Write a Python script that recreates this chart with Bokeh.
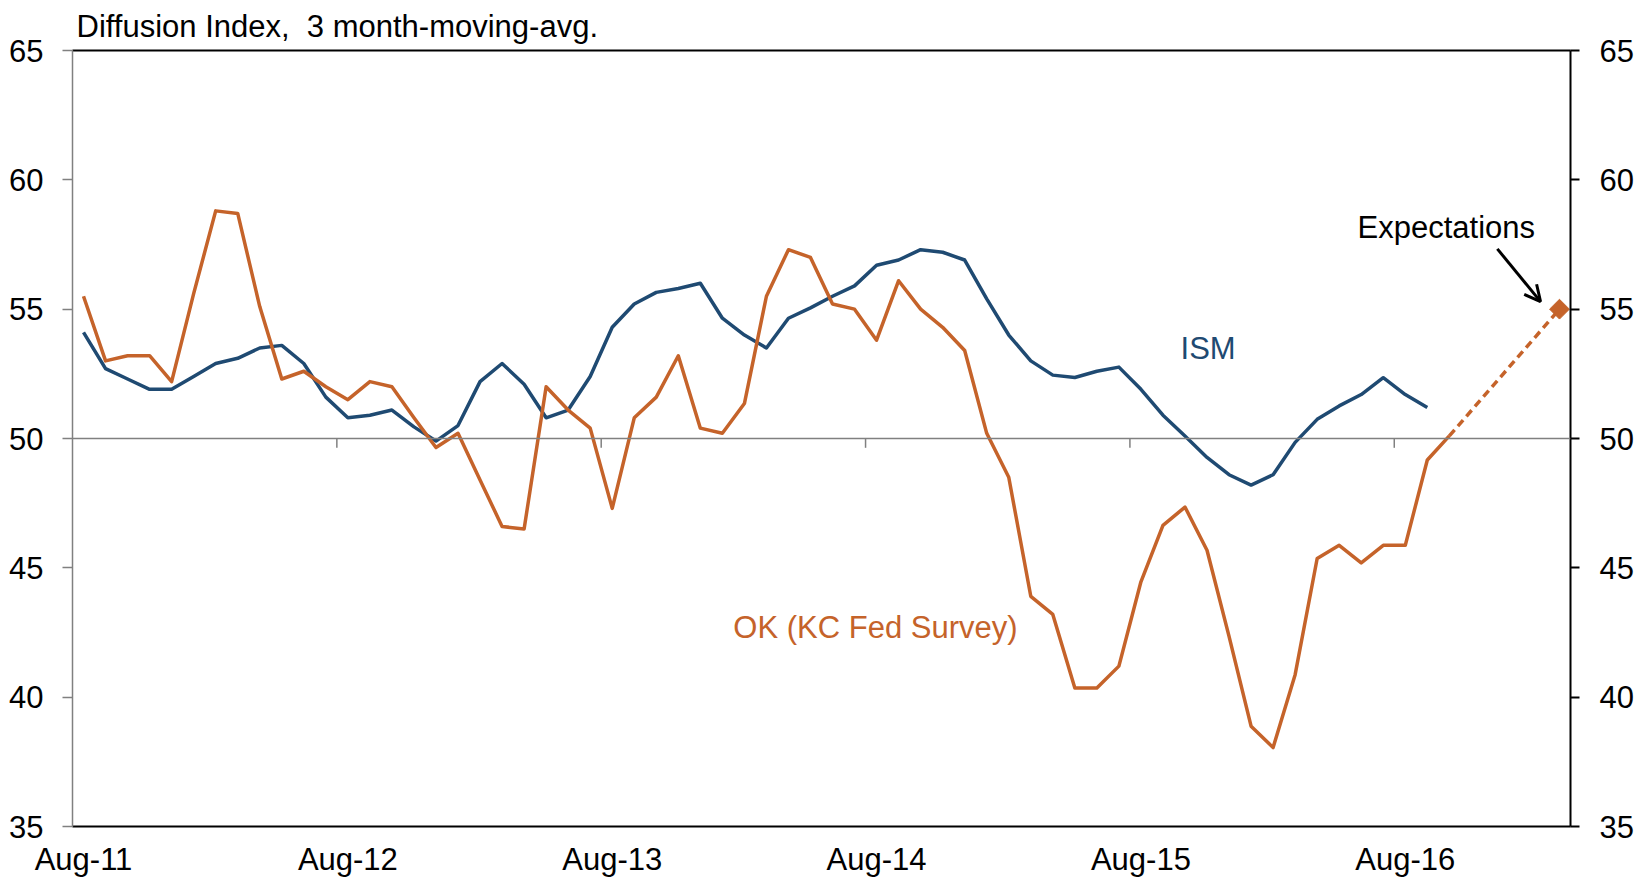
import math
import pandas as pd
from bokeh.plotting import figure
from bokeh.models import (Range1d, LinearAxis, FixedTicker, Span, Label,
                          Arrow, OpenHead)
from bokeh.embed import file_html
from bokeh.resources import INLINE

# ---------------- data ----------------
months = [p.strftime("%b-%y") for p in pd.period_range("2011-08", "2017-03", freq="M")]

ism_values = [54.1, 52.7, 52.3, 51.9, 51.9, 52.4, 52.9, 53.1, 53.5, 53.6,
              52.9, 51.6, 50.8, 50.9, 51.1, 50.45, 49.9, 50.5, 52.2, 52.9,
              52.1, 50.8, 51.1, 52.4, 54.3, 55.2, 55.65, 55.8, 56.0, 54.65,
              54.0, 53.5, 54.65, 55.05, 55.5, 55.9, 56.7, 56.9, 57.3, 57.2,
              56.9, 55.4, 54.0, 53.0, 52.45, 52.36, 52.6, 52.76, 51.9, 50.9,
              50.1, 49.27, 48.6, 48.2, 48.6, 49.85, 50.74, 51.26, 51.7, 52.35,
              51.7, 51.2]

ok_values = [55.5, 53.0, 53.2, 53.2, 52.2, 55.6, 58.8, 58.7, 55.1, 52.3,
             52.6, 52.0, 51.5, 52.2, 52.0, 50.8, 49.65, 50.2, 48.4, 46.6,
             46.5, 52.0, 51.1, 50.4, 47.3, 50.8, 51.6, 53.2, 50.4, 50.2,
             51.35, 55.5, 57.3, 57.0, 55.2, 55.0, 53.8, 56.1, 55.0, 54.3,
             53.4, 50.2, 48.5, 43.9, 43.2, 40.35, 40.35, 41.2, 44.46, 46.64,
             47.35, 45.68, 42.35, 38.88, 38.05, 40.87, 45.36, 45.87, 45.19, 45.87,
             45.87, 49.17, 50.1]

expectation_month = "Mar-17"
expectation_value = 55.0

year_tick_labels = ["Aug-11", "Aug-12", "Aug-13", "Aug-14", "Aug-15", "Aug-16"]
y_ticks = [35, 40, 45, 50, 55, 60, 65]

# ---------------- styling ----------------
BLUE = "#1F4A72"
ORANGE = "#C5632A"
GREY = "#808080"
FONT = "Liberation Sans"
FS = "31px"

pos = {m: i for i, m in enumerate(months)}
x_ism = [pos[m] for m in months[:len(ism_values)]]
x_ok = [pos[m] for m in months[:len(ok_values)]]
x_exp = pos[expectation_month]

p = figure(width=1641, height=880,
           x_range=Range1d(-0.5, len(months) - 0.5),
           y_range=Range1d(y_ticks[0], y_ticks[-1]),
           x_axis_location=None, y_axis_location=None,
           output_backend="svg", toolbar_location=None,
           min_border_left=72, min_border_right=71, min_border_top=50, min_border_bottom=54)
p.outline_line_color = None
p.xgrid.visible = False
p.ygrid.visible = False

# title
p.title.text = "Diffusion Index,\u00a0 3 month-moving-avg."
p.title.align = "left"
p.title.offset = 4
p.title.standoff = 13
p.title.text_font = FONT
p.title.text_font_size = FS
p.title.text_font_style = "normal"
p.title.text_color = "black"

# left axis (grey)
left = LinearAxis(ticker=FixedTicker(ticks=y_ticks),
                  axis_line_color=GREY, axis_line_width=1.5,
                  major_tick_line_color=GREY, major_tick_line_width=1.5,
                  major_tick_out=10, major_tick_in=0, minor_tick_line_color=None,
                  major_label_text_font=FONT, major_label_text_font_size=FS,
                  major_label_text_color="black", major_label_standoff=19)
p.add_layout(left, "left")

# right axis (black)
right = LinearAxis(ticker=FixedTicker(ticks=y_ticks),
                   axis_line_color="black", axis_line_width=2,
                   major_tick_line_color="black", major_tick_line_width=2,
                   major_tick_out=9, major_tick_in=0, minor_tick_line_color=None,
                   major_label_text_font=FONT, major_label_text_font_size=FS,
                   major_label_text_color="black", major_label_standoff=20)
p.add_layout(right, "right")

# top border
top = LinearAxis(ticker=FixedTicker(ticks=[]), axis_line_color="black", axis_line_width=2,
                 major_tick_line_color=None, minor_tick_line_color=None,
                 major_tick_out=0, major_label_standoff=0, major_label_text_font_size="0px")
p.add_layout(top, "above")

# bottom border with yearly labels
year_pos = [pos[m] for m in year_tick_labels]
bottom = LinearAxis(ticker=FixedTicker(ticks=year_pos),
                    major_label_overrides={pos[m]: m for m in year_tick_labels},
                    axis_line_color="black", axis_line_width=2,
                    major_tick_line_color=None, minor_tick_line_color=None,
                    major_tick_out=0, major_tick_in=0, major_label_standoff=15,
                    major_label_text_font=FONT, major_label_text_font_size=FS,
                    major_label_text_color="black")
p.add_layout(bottom, "below")

# 50 line with yearly tick marks
p.add_layout(Span(location=50, dimension="width", line_color=GREY, line_width=1.5))
bounds = [x - 0.5 for x in year_pos if x > 0]
p.segment(x0=bounds, x1=bounds, y0=[50] * len(bounds), y1=[50 - 0.36] * len(bounds),
          line_color=GREY, line_width=1.5)

# series
p.line(x_ism, ism_values, line_color=BLUE, line_width=3.5, line_join="round")
p.line(x_ok, ok_values, line_color=ORANGE, line_width=3.5, line_join="round")
p.line([x_ok[-1], x_exp], [ok_values[-1], expectation_value], line_color=ORANGE,
       line_width=3.5, line_dash="8 5")
p.scatter([x_exp], [expectation_value], marker="square", size=14, angle=math.pi / 4,
          fill_color=ORANGE, line_color=ORANGE)

# annotations
p.add_layout(Label(x=51.05, y=53.02, y_offset=12, text="ISM", text_font=FONT,
                   text_font_size=FS, text_color=BLUE, text_align="center",
                   text_baseline="alphabetic"))
p.add_layout(Label(x=35.95, y=42.31, y_offset=10, text="OK (KC Fed Survey)", text_font=FONT,
                   text_font_size=FS, text_color=ORANGE, text_align="center",
                   text_baseline="alphabetic"))
p.add_layout(Label(x=x_exp - 5.14, y=expectation_value + 2.68, y_offset=12,
                   text="Expectations", text_font=FONT, text_font_size=FS,
                   text_color="black", text_align="center", text_baseline="alphabetic"))
p.add_layout(Arrow(end=OpenHead(size=16, line_width=3, line_color="black"),
                   x_start=x_exp - 2.82, y_start=expectation_value + 2.33,
                   x_end=x_exp - 0.86, y_end=expectation_value + 0.29,
                   line_color="black", line_width=3))

open("out.html", "w").write(file_html(p, INLINE))
